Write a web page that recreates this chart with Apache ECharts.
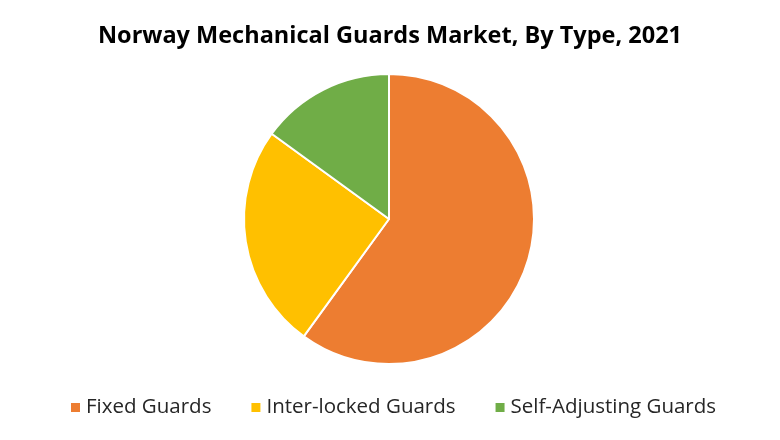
<!DOCTYPE html>
<html><head><meta charset="utf-8">
<script src="https://cdn.jsdelivr.net/npm/echarts@6/dist/echarts.min.js"></script>
<style>html,body{margin:0;padding:0;background:#fff}#c{width:780px;height:440px}</style>
</head><body><div id="c"></div>
<script>
const categories = ["Fixed Guards", "Inter-locked Guards", "Self-Adjusting Guards"];
const values = [60, 25, 15];
const colors = ["#ED7D31", "#FFC000", "#70AD47"];
const title = "Norway Mechanical Guards Market, By Type, 2021";

const chart = echarts.init(document.getElementById('c'));
chart.setOption({
  animation: false,
  title: {
    text: title, left: 'center', top: 19,
    textStyle: {fontFamily: 'Open Sans', fontWeight: 'bold', fontSize: 23.5, color: '#000'}
  },
  legend: {
    bottom: 17, left: 64, itemWidth: 11, itemHeight: 11, itemGap: 38, icon: 'rect',
    textStyle: {fontFamily: 'Open Sans', fontSize: 20.5, color: '#262626'},
    data: categories
  },
  series: [{
    type: 'pie', center: [389, 219], radius: 145, startAngle: 90, clockwise: true,
    label: {show: false}, labelLine: {show: false},
    itemStyle: {borderColor: '#fff', borderWidth: 2},
    data: categories.map((c, i) => ({name: c, value: values[i], itemStyle: {color: colors[i]}}))
  }]
});
</script></body></html>
